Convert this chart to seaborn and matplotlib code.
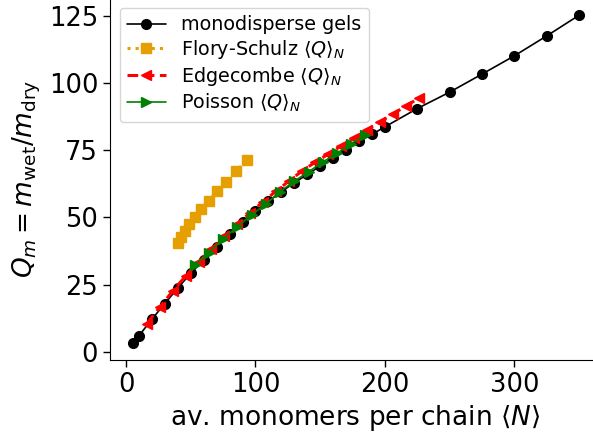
import matplotlib
matplotlib.use("Agg")
import matplotlib.pyplot as plt
import seaborn as sns
import pandas as pd

# Monodisperse gels: chain length N and swelling ratio Q_m
mono_N = [5, 10, 20, 30, 40, 50, 60, 70, 80, 90, 100, 110, 120, 130, 140,
          150, 160, 170, 180, 190, 200, 225, 250, 275, 300, 325, 350]
mono_Q = [3.2, 6.0, 12.2, 18.0, 23.8, 29.2, 34.3, 39.2, 44.0, 48.4, 52.4, 56.0,
          59.6, 62.9, 66.0, 69.1, 72.3, 75.2, 78.3, 80.9, 83.7, 90.5, 96.6,
          103.3, 110.1, 117.5, 125.2]

# Flory-Schulz averaged swelling
flory_N = [40.0, 42.5, 45.6, 48.9, 53.3, 58.0, 64.1, 70.3, 77.5, 85.2, 93.3]
flory_Q = [40.4, 42.6, 45.0, 47.5, 50.1, 53.0, 56.2, 59.7, 63.3, 67.3, 71.2]

# Edgecombe averaged swelling
edge_N = [16, 26, 36, 46, 56, 66, 76, 86, 96, 106, 116, 126, 136, 146, 156,
          166, 176, 186, 196, 206, 216, 226]
edge_Q = [10.5, 16.6, 22.6, 28.2, 33.4, 38.2, 43.0, 47.6, 51.8, 55.9, 59.8,
          63.6, 67.3, 70.5, 73.5, 76.5, 79.5, 82.5, 85.5, 88.4, 91.4, 94.3]

# Poisson averaged swelling
poisson_N = [53, 64, 75, 86, 97, 108, 119, 130, 141, 152, 163, 174, 185]
poisson_Q = [32.3, 36.9, 42.0, 46.6, 51.0, 55.0, 59.6, 63.5, 67.0, 70.6,
             73.9, 77.5, 80.6]

xticks = [0, 100, 200, 300]
yticks = [0, 25, 50, 75, 100, 125]

sns.set_style("ticks")
plt.rcParams["font.family"] = ["DejaVu Sans"]
plt.rcParams["mathtext.fontset"] = "dejavusans"
for key in ("text.color", "axes.labelcolor", "xtick.color", "ytick.color",
            "axes.edgecolor"):
    plt.rcParams[key] = "black"

fig = plt.figure(figsize=(5.93, 4.34), dpi=100)
ax = fig.add_axes([0.1855, 0.1705, 0.828, 0.834])

series = [
    (mono_N, mono_Q, "monodisperse gels", "black", "o", "-", 1.2),
    (flory_N, flory_Q, r"Flory-Schulz $\langle Q\rangle_N$", "#E69F00", "s", ":", 2.2),
    (edge_N, edge_Q, r"Edgecombe $\langle Q\rangle_N$", "red", "<", (0, (3.5, 1.8)), 2.2),
    (poisson_N, poisson_Q, r"Poisson $\langle Q\rangle_N$", "green", ">", "-", 1.2),
]

for xs, ys, lab, col, mk, ls, lw in series:
    df = pd.DataFrame({"N": xs, "Q": ys})
    sns.lineplot(data=df, x="N", y="Q", ax=ax, color=col, marker=mk,
                 linestyle=ls, linewidth=lw, markersize=7,
                 markeredgecolor=col, markeredgewidth=1.0, label=lab,
                 sort=False)

ax.set_xlim(-12.4, 367)
ax.set_ylim(-3, 131.6)
ax.set_xticks(xticks)
ax.set_yticks(yticks)
ax.tick_params(labelsize=18.5, length=5, width=1, colors="black")
ax.set_xlabel(r"av. monomers per chain $\langle N\rangle$", fontsize=19)
ax.set_ylabel(r"$Q_m = m_{\rm wet}/m_{\rm dry}$", fontsize=19)
sns.despine(ax=ax)

leg = ax.legend(loc="upper left", fontsize=13.8, frameon=True,
                labelspacing=0.2)
for t in leg.get_texts():
    t.set_color("black")

fig.savefig("out.png", dpi=100)
